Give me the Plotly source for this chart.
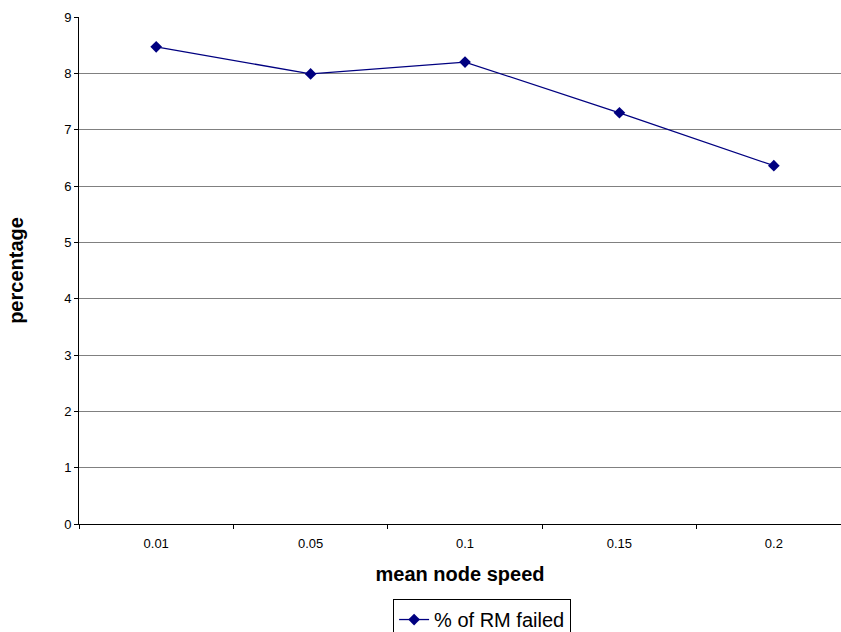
import plotly.graph_objects as go

speeds = ["0.01", "0.05", "0.1", "0.15", "0.2"]
rm_failed = [8.47, 7.99, 8.2, 7.3, 6.36]
series_name = "% of RM failed"
y_ticks = list(range(0, 10))

fig = go.Figure()
fig.add_trace(go.Scatter(
    x=speeds, y=rm_failed, name=series_name,
    mode="lines+markers",
    line=dict(color="#000080", width=1.3),
    marker=dict(symbol="diamond", size=9, color="#000080"),
    showlegend=True,
))

fig.update_layout(
    width=841, height=632,
    margin=dict(l=79, r=0, t=17, b=108, autoexpand=False),
    paper_bgcolor="white", plot_bgcolor="white",
    font=dict(family="Liberation Sans, Arial, sans-serif", color="black"),
    showlegend=True,
    legend=dict(
        x=0.529, y=-0.148, xanchor="center", yanchor="top",
        bordercolor="black", borderwidth=1,
        font=dict(size=20, family="Liberation Sans, Arial, sans-serif"),
        bgcolor="white",
    ),
    xaxis=dict(
        type="category",
        range=[-0.5, 4.435],
        tickson="boundaries",
        ticks="outside", ticklen=4, tickcolor="black",
        ticklabelstandoff=7,
        showline=True, linecolor="black", linewidth=1,
        showgrid=False, zeroline=False,
        tickfont=dict(size=13),
        title=dict(text="<b>mean node speed</b>", font=dict(size=20), standoff=17),
    ),
    yaxis=dict(
        range=[0, 9],
        tickvals=y_ticks,
        ticks="outside", ticklen=4, tickcolor="black",
        showline=True, linecolor="black", linewidth=1,
        showgrid=True, gridcolor="#808080", gridwidth=1,
        zeroline=False,
        tickfont=dict(size=13),
        title=dict(text="<b>percentage</b>", font=dict(size=20), standoff=35),
    ),
)

fig.write_html("out.html")
